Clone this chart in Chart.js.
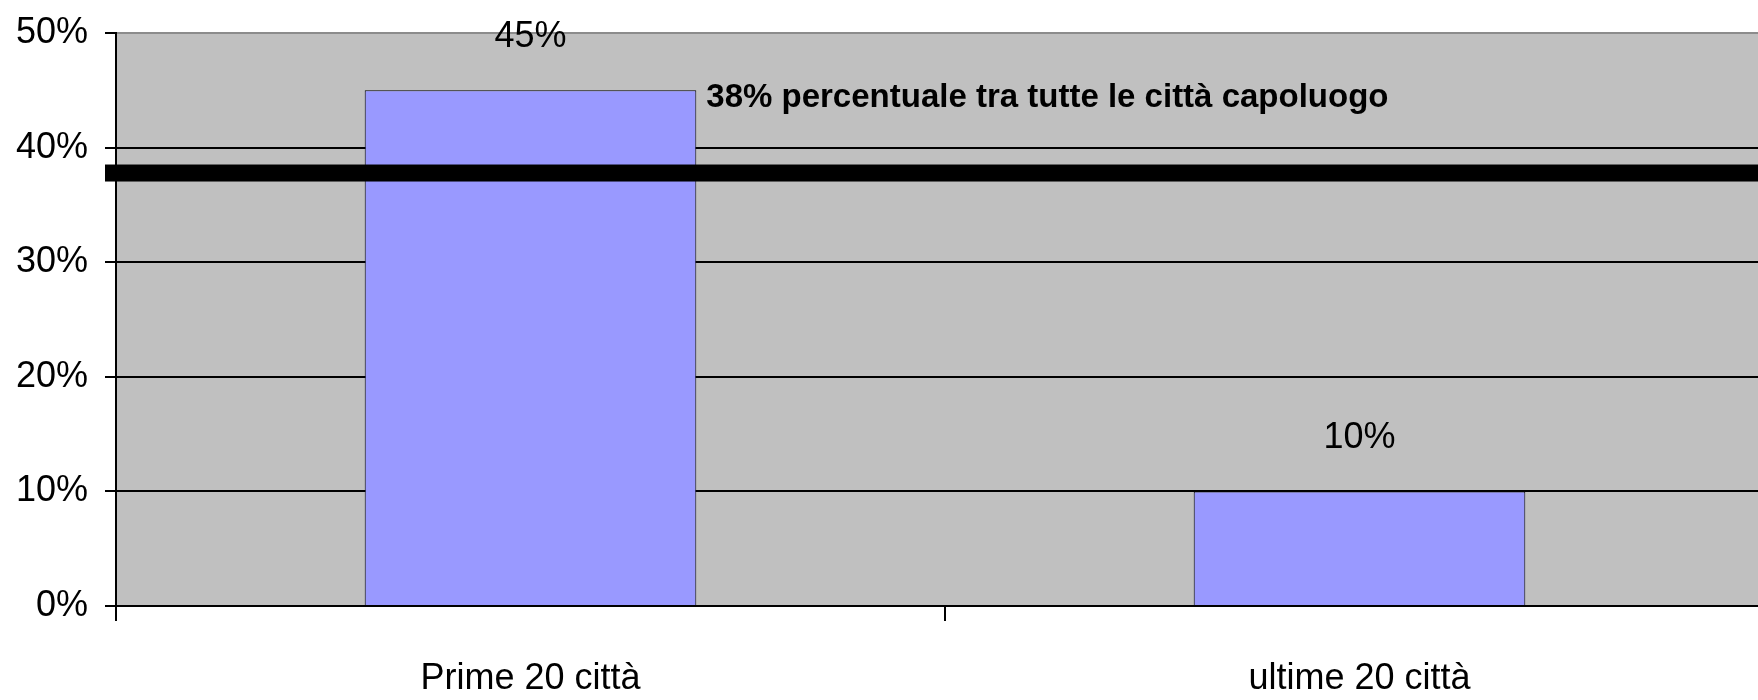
<!DOCTYPE html>
<html>
<head>
<meta charset="utf-8">
<script src="https://cdn.jsdelivr.net/npm/chart.js@4.4.1/dist/chart.umd.min.js"></script>
<style>
  html, body { margin: 0; padding: 0; background: #fff; overflow: hidden; }
  #chart { display: block; }
</style>
</head>
<body>
<canvas id="chart" width="1790" height="700"></canvas>
<script>
const categories = ['Prime 20 città', 'ultime 20 città'];
const shares = [45, 10];
const capoluoghiShare = 38;
const capoluoghiLabel = '38% percentuale tra tutte le città capoluogo';
const yTicks = [0, 10, 20, 30, 40, 50];

const FONT = "'Liberation Sans', Arial, sans-serif";

// grey plot area like the old spreadsheet chart
const plotBackground = {
  id: 'plotBackground',
  beforeDraw(chart) {
    const { ctx, chartArea: a } = chart;
    ctx.save();
    ctx.fillStyle = '#c0c0c0';
    ctx.fillRect(a.left, a.top, a.right - a.left, a.bottom - a.top);
    ctx.restore();
  },
};

// thick 38% line, its caption and the value labels over the bars
const referenceLine = {
  id: 'referenceLine',
  afterDatasetsDraw(chart) {
    const { ctx, chartArea: a, scales } = chart;
    const meta = chart.getDatasetMeta(0);
    const y = scales.y.getPixelForValue(capoluoghiShare);

    ctx.save();
    ctx.fillStyle = '#000';
    ctx.fillRect(a.left - 11, y - 6, chart.width, 17);

    const first = meta.data[0];
    ctx.font = `bold 33px ${FONT}`;
    ctx.textBaseline = 'middle';
    ctx.fillText(capoluoghiLabel, first.x + first.width / 2 + 10, first.y + 8);

    ctx.font = `36px ${FONT}`;
    ctx.textAlign = 'center';
    meta.data.forEach((bar, i) => {
      ctx.fillText(`${shares[i]}%`, bar.x, bar.y - 53);
    });
    ctx.restore();
  },
};

new Chart(document.getElementById('chart'), {
  type: 'bar',
  data: {
    labels: categories,
    datasets: [{
      data: shares,
      backgroundColor: '#9999ff',
      borderColor: '#000',
      borderWidth: 1,
      barPercentage: 0.4,
      categoryPercentage: 1,
    }],
  },
  options: {
    responsive: false,
    animation: false,
    layout: { padding: { top: 33, right: 16, left: 0, bottom: 0 } },
    plugins: {
      legend: { display: false },
      tooltip: { enabled: false },
    },
    scales: {
      x: {
        border: { color: '#000', width: 2 },
        grid: {
          drawOnChartArea: false,
          color: '#000',
          lineWidth: 2,
          tickLength: 15,
        },
        ticks: {
          color: '#000',
          font: { family: FONT, size: 36 },
          padding: 36,
        },
        afterFit(scale) { scale.height = 94; },
      },
      y: {
        min: 0,
        max: 50,
        border: { color: '#000', width: 2 },
        grid: {
          color: (ctx) => (ctx.tick && ctx.tick.value === 50 ? '#8c8c8c' : '#000'),
          tickColor: '#000',
          lineWidth: 2,
          tickLength: 11,
        },
        afterBuildTicks(scale) {
          scale.ticks = yTicks.map((value) => ({ value }));
        },
        ticks: {
          color: '#000',
          font: { family: FONT, size: 36 },
          padding: 17,
          callback: (value) => `${value}%`,
        },
        afterFit(scale) {
          scale.width = 116;
          scale.paddingTop = 0;
          scale.paddingBottom = 0;
        },
      },
    },
  },
  plugins: [plotBackground, referenceLine],
});
</script>
</body>
</html>
